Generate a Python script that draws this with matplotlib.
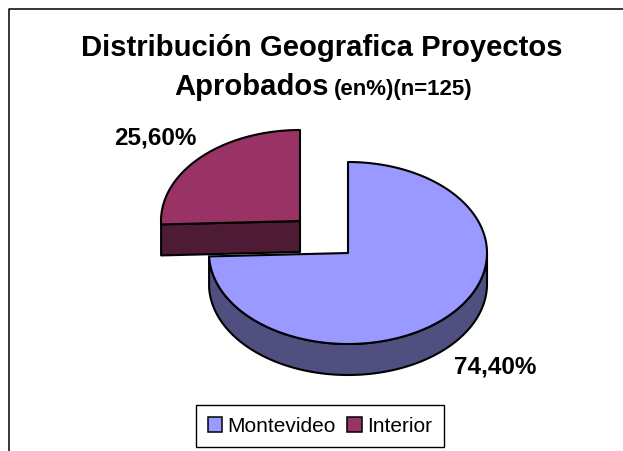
import numpy as np
import matplotlib
matplotlib.use("Agg")
import matplotlib.pyplot as plt
from matplotlib.patches import Polygon, Patch

plt.rcParams['font.family'] = ['Liberation Sans', 'DejaVu Sans']

categories = ['Montevideo', 'Interior']
values = [74.4, 25.6]
value_labels = ['74,40%', '25,60%']

top_colors = ['#9999FF', '#993366']
side_colors = ['#4F4F80', '#4D1B33']

W, H = 623, 452
rx, ry = 139, 91
depth = 31
centers = [(348, 254), (300, 222)]

fig = plt.figure(figsize=(W / 100, H / 100), dpi=100)
ax = fig.add_axes([0, 0, 1, 1])
ax.set_xlim(0, W)
ax.set_ylim(H, 0)
ax.axis('off')

# marco del grafico (solo arriba y a la izquierda se ve)
ax.plot([8.5, 8.5, W], [H, 9.5, 9.5], color='black', lw=1.1)


def rim(cx, cy, a0, a1):
    # angulos en grados, desde las 12 en sentido horario
    t = np.radians(np.linspace(a0, a1, 200))
    return np.column_stack([cx + rx * np.sin(t), cy - ry * np.cos(t)])


ang = np.cumsum([0] + values) * 3.6
edge = dict(edgecolor='black', lw=1.5, joinstyle='round')

# Interior: cara frontal del corte y tapa
cx, cy = centers[1]
p_left = rim(cx, cy, ang[1], ang[1] + 0.01)[0]
front = np.array([p_left, [cx, cy], [cx, cy + depth], p_left + [0, depth]])
ax.add_patch(Polygon(front, facecolor=side_colors[1], zorder=2, **edge))
ax.add_patch(Polygon(np.vstack([[cx, cy], rim(cx, cy, ang[1], ang[2])]),
                     facecolor=top_colors[1], zorder=3, **edge))

# Montevideo: pared lateral y tapa
cx, cy = centers[0]
low = rim(cx, cy, 90, ang[1])
wall = np.vstack([low, (low + [0, depth])[::-1]])
ax.add_patch(Polygon(wall, facecolor=side_colors[0], zorder=4, **edge))
ax.add_patch(Polygon(np.vstack([[cx, cy], rim(cx, cy, ang[0], ang[1])]),
                     facecolor=top_colors[0], zorder=5, **edge))

# titulo
ax.text(322, 56, 'Distribución Geografica Proyectos', ha='center', va='baseline',
        fontsize=21.1, fontweight='bold')
ax.text(174, 95, 'Aprobados', ha='left', va='baseline', fontsize=21.1, fontweight='bold')
ax.text(334, 95, '(en%)(n=125)', ha='left', va='baseline', fontsize=16, fontweight='bold')

# etiquetas de valor
ax.text(454, 374, value_labels[0], ha='left', va='baseline', fontsize=17.5, fontweight='bold')
ax.text(114, 145, value_labels[1], ha='left', va='baseline', fontsize=17.5, fontweight='bold')

handles = [Patch(facecolor=c, edgecolor='black', lw=1.1) for c in top_colors]
leg = ax.legend(handles, categories, loc='center', bbox_to_anchor=(320 / W, 1 - 427 / H),
                ncol=2, fontsize=15, fancybox=False, framealpha=1, edgecolor='black',
                handlelength=0.7, handleheight=0.7, handletextpad=0.25, columnspacing=0.55,
                borderpad=0.55, borderaxespad=0)
leg.get_frame().set_linewidth(1.0)

fig.savefig('out.png', dpi=100)
